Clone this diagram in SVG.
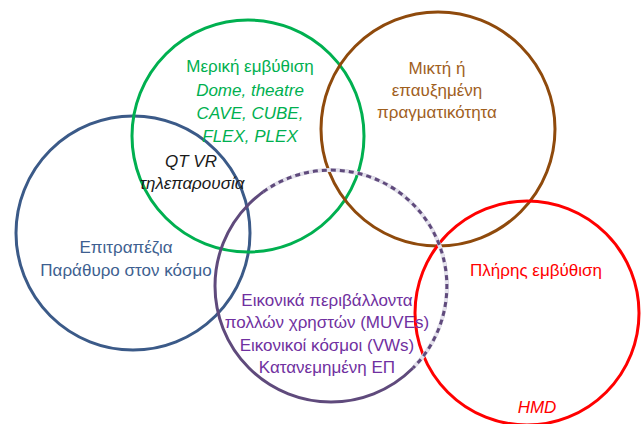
<svg xmlns="http://www.w3.org/2000/svg" width="641" height="424" viewBox="0 0 641 424">
<style>
.c{fill:none;stroke-width:3}
text{font-family:"Liberation Sans",Arial,sans-serif;font-size:17px;text-anchor:middle}
.i{font-style:italic}
</style>
<rect width="641" height="424" fill="#fff"/>
<g id="connectors"></g>
<g id="blue">
<circle class="c" cx="133" cy="233" r="117" stroke="#3b5a88"/>
<text x="126" y="253" fill="#3e5f90">Επιτραπέζια</text>
<text x="126" y="276" fill="#3e5f90">Παράθυρο στον κόσμο</text>
</g>
<g id="green">
<circle class="c" cx="248" cy="136" r="116" stroke="#00b050"/>
<text x="250" y="72" fill="#00b050">Μερική εμβύθιση</text>
<text class="i" x="250" y="96" fill="#00b050">Dome, theatre</text>
<text class="i" x="250" y="119" fill="#00b050">CAVE, CUBE,</text>
<text class="i" x="250" y="142" fill="#00b050">FLEX, PLEX</text>
<text class="i" x="191" y="167" fill="#1a1a1a">QT VR</text>
<text class="i" x="192" y="189" fill="#1a1a1a">τηλεπαρουσία</text>
</g>
<g id="brown">
<circle class="c" cx="438" cy="129" r="117" stroke="#8f4a0c"/>
<text x="437" y="74" fill="#a0601e">Μικτή ή</text>
<text x="437" y="96" fill="#a0601e">επαυξημένη</text>
<text x="437" y="118" fill="#a0601e">πραγματικότητα</text>
</g>
<g id="red">
<circle class="c" cx="527" cy="313" r="112" stroke="#ff0000"/>
<text x="536" y="276" fill="#ff0000">Πλήρης εμβύθιση</text>
<text class="i" x="537" y="413" fill="#ff0000">HMD</text>
</g>
<g id="purple">
<circle class="c" cx="331" cy="286" r="116" stroke="#5f4a7c"/>
<path d="M263.3,191.8 A116,116 0 0 1 413,368" fill="none" stroke="#e4e2ec" stroke-width="4"/>
<path d="M263.3,191.8 A116,116 0 0 1 413,368" fill="none" stroke="#5f4a7c" stroke-width="3" stroke-dasharray="5 4"/>
<text x="327" y="306" fill="#7030a0">Εικονικά περιβάλλοντα</text>
<text x="327" y="328" fill="#7030a0">πολλών χρηστών (MUVEs)</text>
<text x="327" y="351" fill="#7030a0">Εικονικοί κόσμοι (VWs)</text>
<text x="327" y="373" fill="#7030a0">Κατανεμημένη ΕΠ</text>
</g>
</svg>
